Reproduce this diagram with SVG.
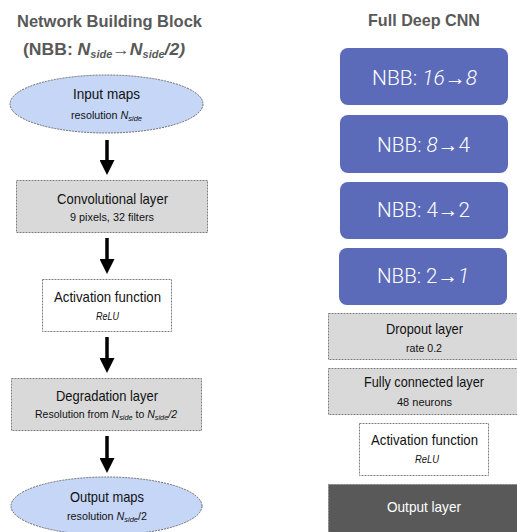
<svg xmlns="http://www.w3.org/2000/svg" width="517" height="532" viewBox="0 0 517 532">
<defs>
<style>
.t{font-family:"Liberation Sans",Arial,sans-serif;fill:#111111;text-anchor:middle}
.h{font-family:"Liberation Sans",Arial,sans-serif;font-weight:bold;fill:#595959;text-anchor:middle}
.big{font-size:15px}
.sm{font-size:11.5px}
.i{font-style:italic}
.sub{font-size:8px;font-style:italic;baseline-shift:-2px}
.hsub{font-size:10px;font-style:italic;baseline-shift:-3px}
.gray{fill:#d9d9d9;stroke:#7f7f7f;stroke-width:1;stroke-dasharray:2 1}
.white{fill:#ffffff;stroke:#7f7f7f;stroke-width:1;stroke-dasharray:2 1}
.ell{fill:#c6d6f7;stroke:#6b6b6b;stroke-width:1;stroke-dasharray:2 1}
.nbb{fill:#5b6bba}
.nt{font-family:Roboto,"Open Sans","Liberation Sans",sans-serif;font-weight:300;font-size:21px;fill:#ffffff;text-anchor:middle}
.arr{stroke:#000;stroke-width:3.5;fill:none;marker-end:url(#ah)}
</style>
<marker id="ah" viewBox="0 0 10 10" refX="0" refY="5" markerUnits="userSpaceOnUse" markerWidth="15" markerHeight="15" orient="auto">
<path d="M0,0 L10,5 L0,10 z" fill="#000"/>
</marker>
</defs>

<g id="titles">
<text class="h" x="109.5" y="27" font-size="17" textLength="185" lengthAdjust="spacingAndGlyphs">Network Building Block</text>
<text class="h" x="104" y="55" font-size="16" textLength="162" lengthAdjust="spacingAndGlyphs">(NBB: <tspan class="i">N</tspan><tspan class="hsub">side</tspan>→<tspan class="i">N</tspan><tspan class="hsub">side</tspan><tspan class="i">/2)</tspan></text>
<text class="h" x="424" y="26" font-size="17" textLength="112" lengthAdjust="spacingAndGlyphs">Full Deep CNN</text>
</g>

<g id="connectors">
<line class="arr" x1="107" y1="140" x2="107" y2="160"/>
<line class="arr" x1="107" y1="238" x2="107" y2="259"/>
<line class="arr" x1="107" y1="337" x2="107" y2="358"/>
<line class="arr" x1="107" y1="436" x2="107" y2="458"/>
</g>

<g id="input-maps">
<ellipse class="ell" cx="106.5" cy="104" rx="96.5" ry="29"/>
<text class="t big" x="106.5" y="99" textLength="67" lengthAdjust="spacingAndGlyphs">Input maps</text>
<text class="t sm" x="106.5" y="119" textLength="71" lengthAdjust="spacingAndGlyphs">resolution <tspan class="i">N</tspan><tspan class="sub">side</tspan></text>
</g>

<g id="conv-layer">
<rect class="gray" x="16.5" y="180.5" width="191" height="52"/>
<text class="t big" x="112.5" y="204" textLength="111" lengthAdjust="spacingAndGlyphs">Convolutional layer</text>
<text class="t sm" x="112" y="221" textLength="84" lengthAdjust="spacingAndGlyphs">9 pixels, 32 filters</text>
</g>

<g id="activation-left">
<rect class="white" x="42.5" y="279.5" width="129" height="52"/>
<text class="t big" x="107.5" y="302" textLength="107" lengthAdjust="spacingAndGlyphs">Activation function</text>
<text class="t sm i" x="107.5" y="320" textLength="23" lengthAdjust="spacingAndGlyphs">ReLU</text>
</g>

<g id="degradation-layer">
<rect class="gray" x="11.5" y="378.5" width="190" height="52"/>
<text class="t big" x="107" y="401" textLength="102" lengthAdjust="spacingAndGlyphs">Degradation layer</text>
<text class="t sm" x="106" y="418" textLength="142" lengthAdjust="spacingAndGlyphs">Resolution from <tspan class="i">N</tspan><tspan class="sub">side</tspan> to <tspan class="i">N</tspan><tspan class="sub">side</tspan><tspan class="i">/2</tspan></text>
</g>

<g id="output-maps">
<ellipse class="ell" cx="106.5" cy="506" rx="95.5" ry="29"/>
<text class="t big" x="107" y="502" textLength="74" lengthAdjust="spacingAndGlyphs">Output maps</text>
<text class="t sm" x="107" y="520" textLength="80" lengthAdjust="spacingAndGlyphs">resolution <tspan class="i">N</tspan><tspan class="sub">side</tspan>/2</text>
</g>

<g id="nbb-16-8">
<rect class="nbb" x="340" y="48" width="168" height="57" rx="8"/>
<text class="nt" x="424.5" y="85" textLength="105" lengthAdjust="spacingAndGlyphs">NBB: <tspan class="i">16</tspan>→<tspan class="i">8</tspan></text>
</g>
<g id="nbb-8-4">
<rect class="nbb" x="340" y="115" width="168" height="58" rx="8"/>
<text class="nt" x="423.5" y="152" textLength="93" lengthAdjust="spacingAndGlyphs">NBB: <tspan class="i">8</tspan>→4</text>
</g>
<g id="nbb-4-2">
<rect class="nbb" x="340" y="182" width="168" height="57" rx="8"/>
<text class="nt" x="423.5" y="217" textLength="93" lengthAdjust="spacingAndGlyphs">NBB: 4→2</text>
</g>
<g id="nbb-2-1">
<rect class="nbb" x="339" y="248" width="168" height="57" rx="8"/>
<text class="nt" x="423" y="283" textLength="92" lengthAdjust="spacingAndGlyphs">NBB: 2→<tspan class="i">1</tspan></text>
</g>

<g id="dropout-layer">
<rect class="gray" x="328.5" y="313.5" width="190" height="46"/>
<text class="t big" x="424.5" y="334" textLength="77" lengthAdjust="spacingAndGlyphs">Dropout layer</text>
<text class="t sm" x="424" y="352" textLength="36" lengthAdjust="spacingAndGlyphs">rate 0.2</text>
</g>

<g id="fully-connected-layer">
<rect class="gray" x="328.5" y="368.5" width="190" height="46"/>
<text class="t big" x="424" y="387" textLength="120" lengthAdjust="spacingAndGlyphs">Fully connected layer</text>
<text class="t sm" x="424.5" y="406" textLength="55" lengthAdjust="spacingAndGlyphs">48 neurons</text>
</g>

<g id="activation-right">
<rect class="white" x="359.5" y="423.5" width="129" height="52"/>
<text class="t big" x="424.5" y="445" textLength="107" lengthAdjust="spacingAndGlyphs">Activation function</text>
<text class="t sm i" x="427" y="463" textLength="24" lengthAdjust="spacingAndGlyphs">ReLU</text>
</g>

<g id="output-layer">
<rect x="328.5" y="484.5" width="190" height="52" fill="#595959" stroke="#7f7f7f" stroke-width="1" stroke-dasharray="2 1"/>
<text class="t big" x="424" y="512" style="fill:#ffffff" textLength="74" lengthAdjust="spacingAndGlyphs">Output layer</text>
</g>
</svg>
